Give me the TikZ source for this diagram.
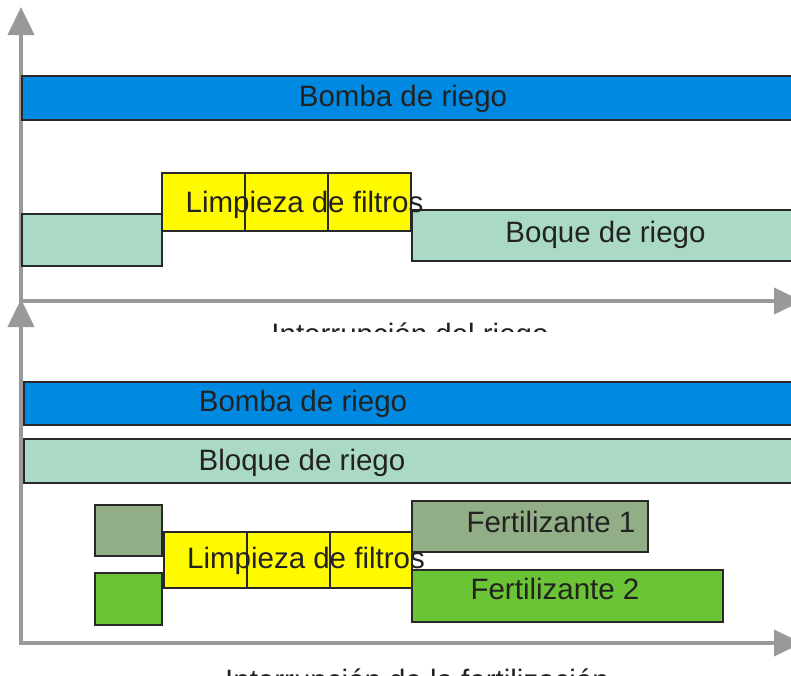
\documentclass[tikz,border=0pt]{standalone}
\usepackage{fontspec}
\setmainfont{Liberation Sans}
\usetikzlibrary{arrows.meta}
\definecolor{pumpBlue}{RGB}{0,137,224}
\definecolor{blockGreen}{RGB}{170,218,197}
\definecolor{filterYellow}{RGB}{255,250,0}
\definecolor{fertGray}{RGB}{145,174,134}
\definecolor{fertGreen}{RGB}{107,196,53}
\definecolor{axisGray}{RGB}{153,153,153}
\definecolor{lineDark}{RGB}{40,40,40}
\definecolor{txtDark}{RGB}{34,34,34}

\begin{document}
\begin{tikzpicture}[x=1pt,y=-1pt,
    axis/.style={axisGray, line width=4pt, -{Triangle[length=28pt,width=26pt]}},
    bar/.style={draw=lineDark, line width=1.4pt},
    lbl/.style={text=txtDark, anchor=base, inner sep=0pt, font=\fontsize{29.5}{34}\selectfont}]
    \useasboundingbox (0,0) rectangle (791,675);

    % top panel: axes
    \coordinate (topOrigin) at (21,301);
    \coordinate (topYTip) at (21,7);
    \coordinate (topXTip) at (802,301);
    \draw[axis] (topOrigin) -- (topYTip);
    \draw[axis] ([xshift=-2pt]topOrigin) -- (topXTip);

    % top panel: bars
    \draw[bar, fill=pumpBlue] (22,76) rectangle (796,120);
    \draw[bar, fill=blockGreen] (22,214) rectangle (162,266);
    \draw[bar, fill=blockGreen] (412,210) rectangle (796,261);
    \foreach \xa/\xb in {162/245,245/328,328/411}
        \draw[bar, fill=filterYellow] (\xa,173) rectangle (\xb,231);

    % top panel: labels
    \node[lbl] (pumpTop) at (403,106) {Bomba de riego};
    \node[lbl] (filterTop) at (304.5,212) {Limpieza de filtros};
    \node[lbl] (blockTop) at (605.5,242) {Boque de riego};
    \begin{scope}
        \clip (0,0) rectangle (791,331);
        \node[lbl] (stopIrrig) at (410,344) {Interrupción del riego};
    \end{scope}

    % bottom panel: axes
    \coordinate (botOrigin) at (21,643);
    \coordinate (botYTip) at (21,299);
    \coordinate (botXTip) at (802,643);
    \draw[axis] (botOrigin) -- (botYTip);
    \draw[axis] ([xshift=-2pt]botOrigin) -- (botXTip);

    % bottom panel: bars
    \draw[bar, fill=pumpBlue] (24,382) rectangle (796,425);
    \draw[bar, fill=blockGreen] (24,439) rectangle (796,483);
    \draw[bar, fill=fertGray] (95,505) rectangle (162,556);
    \draw[bar, fill=fertGreen] (95,573) rectangle (162,625);
    \foreach \xa/\xb in {164/247,247/330,330/412}
        \draw[bar, fill=filterYellow] (\xa,532) rectangle (\xb,588);
    \draw[bar, fill=fertGray] (412,501) rectangle (648,552);
    \draw[bar, fill=fertGreen] (412,570) rectangle (723,622);

    % bottom panel: labels
    \node[lbl] (pumpBot) at (303,411.5) {Bomba de riego};
    \node[lbl] (blockBot) at (302,470.5) {Bloque de riego};
    \node[lbl] (filterBot) at (306,568) {Limpieza de filtros};
    \node[lbl] (fertOne) at (551,532) {Fertilizante 1};
    \node[lbl] (fertTwo) at (555,599) {Fertilizante 2};
    \begin{scope}
        \clip (0,0) rectangle (791,675);
        \node[lbl] (stopFert) at (417,690) {Interrupción de la fertilización};
    \end{scope}
\end{tikzpicture}
\end{document}
